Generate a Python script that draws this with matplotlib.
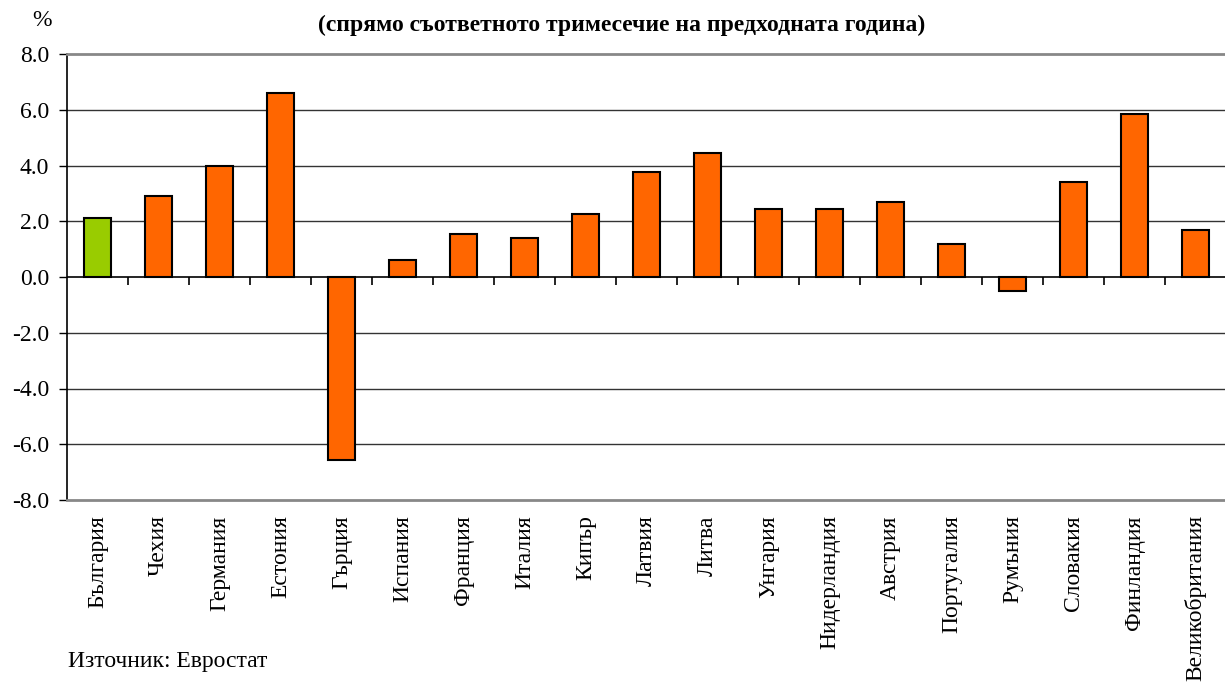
import matplotlib
matplotlib.use("Agg")
import matplotlib.pyplot as plt
import numpy as np

plt.rcParams['font.family'] = ['Liberation Serif', 'DejaVu Serif']
plt.rcParams['axes.unicode_minus'] = False

# данни по държави
countries = ['България', 'Чехия', 'Германия', 'Естония', 'Гърция', 'Испания',
             'Франция', 'Италия', 'Кипър', 'Латвия', 'Литва', 'Унгария',
             'Нидерландия', 'Австрия', 'Португалия', 'Румъния', 'Словакия',
             'Финландия', 'Великобритания']
growth = [2.1, 2.9, 4.0, 6.6, -6.55, 0.6, 1.55, 1.4, 2.25, 3.75, 4.45, 2.45,
          2.45, 2.7, 1.2, -0.5, 3.4, 5.85, 1.7]
highlight = 'България'
yticks = [-8.0, -6.0, -4.0, -2.0, 0.0, 2.0, 4.0, 6.0, 8.0]

colors = ['#99CC00' if c == highlight else '#FF6600' for c in countries]

fig = plt.figure(figsize=(12.25, 6.82), dpi=100)
ax = fig.add_axes([67 / 1225, 1 - 500 / 682, 1159 / 1225, 446 / 682])

x = np.arange(len(countries))
ax.bar(x, growth, width=0.45, color=colors, edgecolor='black', linewidth=1.5, zorder=3)

ax.set_xlim(-0.5, len(countries) - 0.5)
ax.set_ylim(-8, 8)
ax.set_yticks(yticks)
ax.set_yticklabels(['%.1f' % v for v in yticks], fontsize=17)
ax.tick_params(axis='y', length=6, width=1, direction='out', pad=7, colors='black')

ax.set_xticks(x)
ax.set_xticklabels(countries, rotation=90, fontsize=17, va='top')
ax.tick_params(axis='x', length=0, pad=11)

# мрежа
for v in yticks:
    if v in (-8.0, 8.0, 0.0):
        continue
    ax.axhline(v, color='#333333', linewidth=1, zorder=1)

# нулева линия с деления между категориите
ax.axhline(0, color='black', linewidth=1.2, zorder=4)
ax.vlines(x[:-1] + 0.5, -0.3, 0, color='black', linewidth=1.2, zorder=4)

ax.spines['top'].set_color('#888888')
ax.spines['top'].set_linewidth(2)
ax.spines['bottom'].set_color('#888888')
ax.spines['bottom'].set_linewidth(2)
ax.spines['left'].set_color('black')
ax.spines['left'].set_linewidth(1.2)
ax.spines['right'].set_visible(False)

fig.text(622 / 1225, 1 - 25 / 682, '(спрямо съответното тримесечие на предходната година)',
         ha='center', va='center', fontsize=17, fontweight='bold')
fig.text(42 / 1225, 1 - 21 / 682, '%', ha='center', va='center', fontsize=17)
fig.text(68 / 1225, 1 - 661 / 682, 'Източник: Евростат', ha='left', va='center', fontsize=17)

fig.savefig('out.png', dpi=100)
